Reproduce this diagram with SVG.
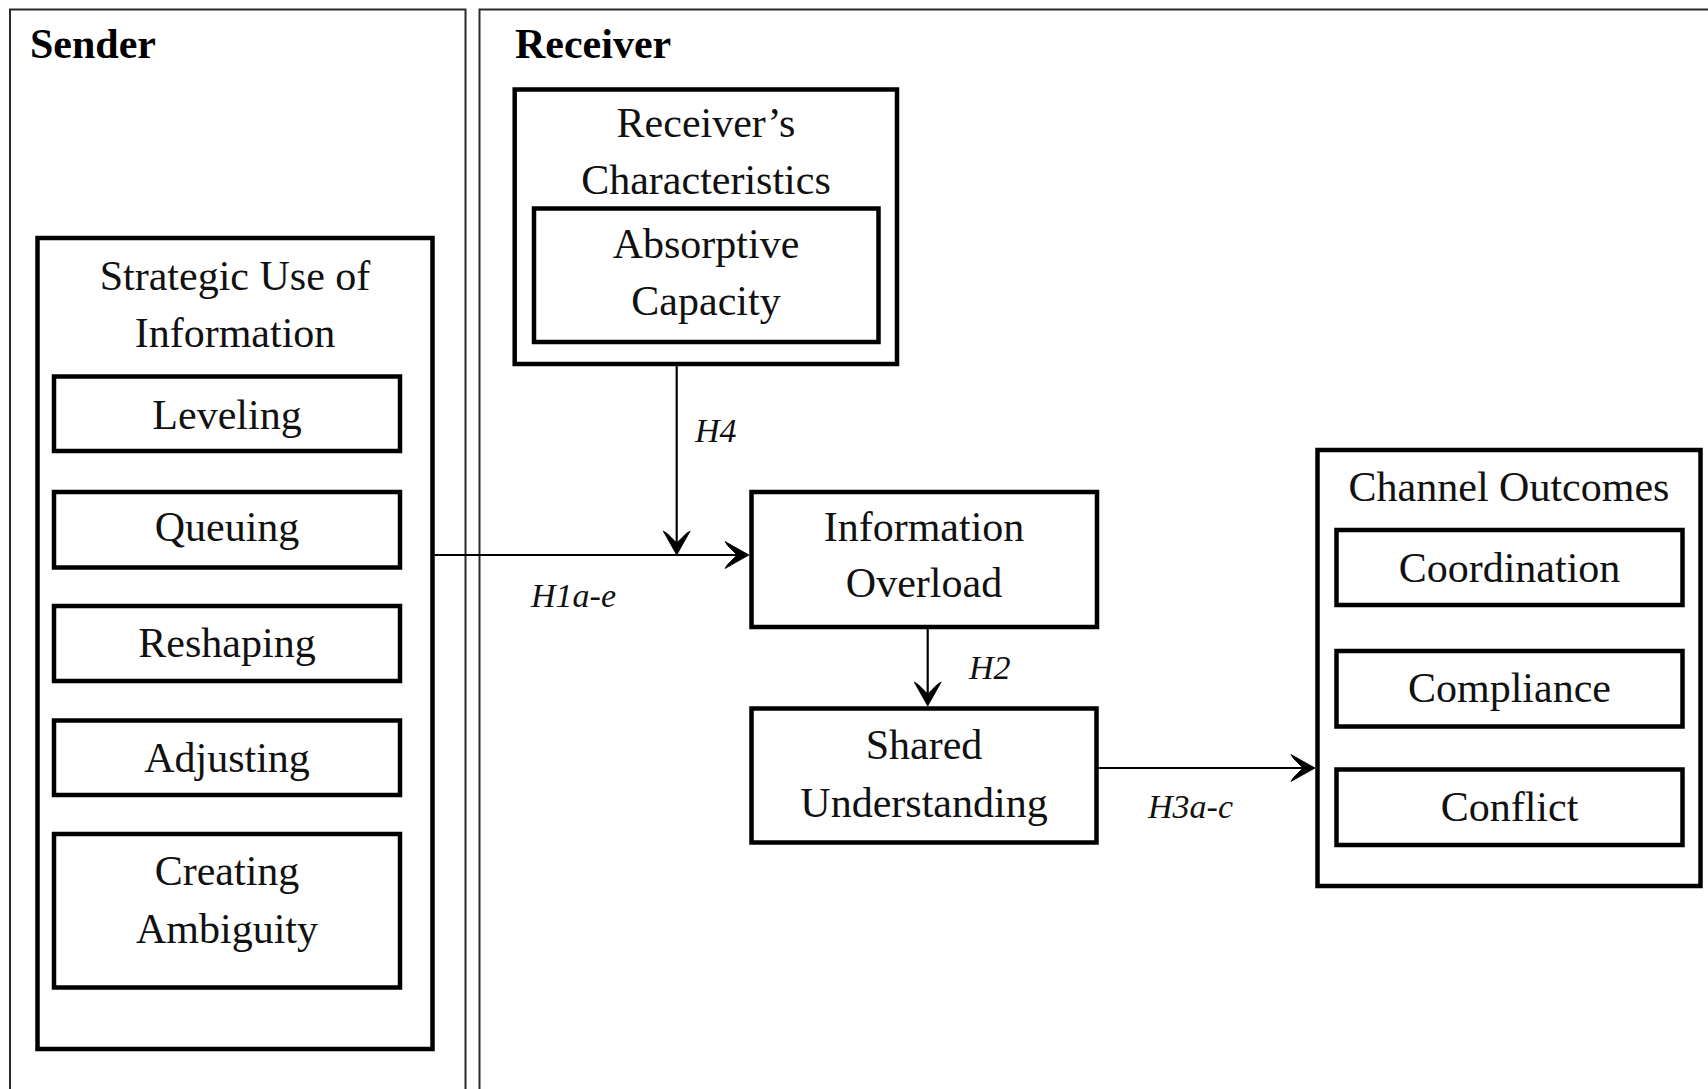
<svg xmlns="http://www.w3.org/2000/svg" width="1708" height="1089" viewBox="0 0 1708 1089">
<style>
.frame{fill:none;stroke:#2a2a2a;stroke-width:2}
.box{fill:none;stroke:#000;stroke-width:4.5}
.t{font-family:"Liberation Serif","Times New Roman",serif;font-size:42px;fill:#111;text-anchor:middle}
.h{font-family:"Liberation Serif","Times New Roman",serif;font-size:42px;font-weight:bold;fill:#000}
.lbl{font-family:"Liberation Serif","Times New Roman",serif;font-size:34px;font-style:italic;fill:#111}
.conn{fill:none;stroke:#000;stroke-width:2.2}
</style>
<defs>
<marker id="arr" markerUnits="userSpaceOnUse" viewBox="-26 -15 28 30" markerWidth="28" markerHeight="30" refX="-4" refY="0" orient="auto">
<path d="M0,0 L-24,-13.5 L-21.5,-9.5 L-12,0 L-21.5,9.5 L-24,13.5 Z" fill="#000" stroke="#000" stroke-width="0.8" stroke-linejoin="round"/>
</marker>
</defs>
<rect width="1708" height="1089" fill="#fff"/>
<g id="sender">
<rect class="frame" x="10" y="9.5" width="455.5" height="1100"/>
<text class="h" x="30" y="58">Sender</text>
</g>
<g id="receiver">
<rect class="frame" x="479.5" y="9.5" width="1240" height="1100"/>
<text class="h" x="515" y="58">Receiver</text>
</g>
<g id="strategic-use">
<rect class="box" x="37.5" y="238" width="395" height="811"/>
<text class="t" x="235" y="290">Strategic Use of</text>
<text class="t" x="235" y="347">Information</text>
</g>
<g id="leveling">
<rect class="box" x="54" y="376.5" width="346" height="74.5"/>
<text class="t" x="227" y="429">Leveling</text>
</g>
<g id="queuing">
<rect class="box" x="54" y="492" width="346" height="75.5"/>
<text class="t" x="227" y="541">Queuing</text>
</g>
<g id="reshaping">
<rect class="box" x="54" y="606" width="346" height="75"/>
<text class="t" x="227" y="657">Reshaping</text>
</g>
<g id="adjusting">
<rect class="box" x="54" y="720.5" width="346" height="74.5"/>
<text class="t" x="227" y="772">Adjusting</text>
</g>
<g id="creating-ambiguity">
<rect class="box" x="54" y="834" width="346" height="153.5"/>
<text class="t" x="227" y="885">Creating</text>
<text class="t" x="227" y="943">Ambiguity</text>
</g>
<g id="receivers-characteristics">
<rect class="box" x="514.7" y="89.5" width="382.3" height="274.5"/>
<text class="t" x="706" y="137">Receiver’s</text>
<text class="t" x="706" y="194">Characteristics</text>
</g>
<g id="absorptive-capacity">
<rect class="box" x="534" y="208.5" width="344.5" height="133.5"/>
<text class="t" x="706" y="258">Absorptive</text>
<text class="t" x="706" y="315">Capacity</text>
</g>
<g id="information-overload">
<rect class="box" x="751.5" y="492" width="345.5" height="135"/>
<text class="t" x="924" y="541">Information</text>
<text class="t" x="924" y="597">Overload</text>
</g>
<g id="shared-understanding">
<rect class="box" x="751.5" y="708.5" width="345" height="134"/>
<text class="t" x="924" y="759">Shared</text>
<text class="t" x="924" y="817">Understanding</text>
</g>
<g id="channel-outcomes">
<rect class="box" x="1317.5" y="450" width="383" height="436"/>
<text class="t" x="1509" y="501">Channel Outcomes</text>
</g>
<g id="coordination">
<rect class="box" x="1336.5" y="530" width="346" height="75"/>
<text class="t" x="1509.5" y="582">Coordination</text>
</g>
<g id="compliance">
<rect class="box" x="1336.5" y="651" width="346" height="75.5"/>
<text class="t" x="1509.5" y="702">Compliance</text>
</g>
<g id="conflict">
<rect class="box" x="1336.5" y="769.5" width="346" height="75.5"/>
<text class="t" x="1509.5" y="821">Conflict</text>
</g>
<g id="connectors">
<line class="conn" x1="434.5" y1="555" x2="745" y2="555" marker-end="url(#arr)"/>
<line class="conn" x1="676.7" y1="366" x2="676.7" y2="551" marker-end="url(#arr)"/>
<line class="conn" x1="927.7" y1="629" x2="927.7" y2="702" marker-end="url(#arr)"/>
<line class="conn" x1="1098.5" y1="768" x2="1311" y2="768" marker-end="url(#arr)"/>
<text class="lbl" x="695" y="442">H4</text>
<text class="lbl" x="531" y="607">H1a-e</text>
<text class="lbl" x="969" y="679">H2</text>
<text class="lbl" x="1148" y="818">H3a-c</text>
</g>
</svg>
